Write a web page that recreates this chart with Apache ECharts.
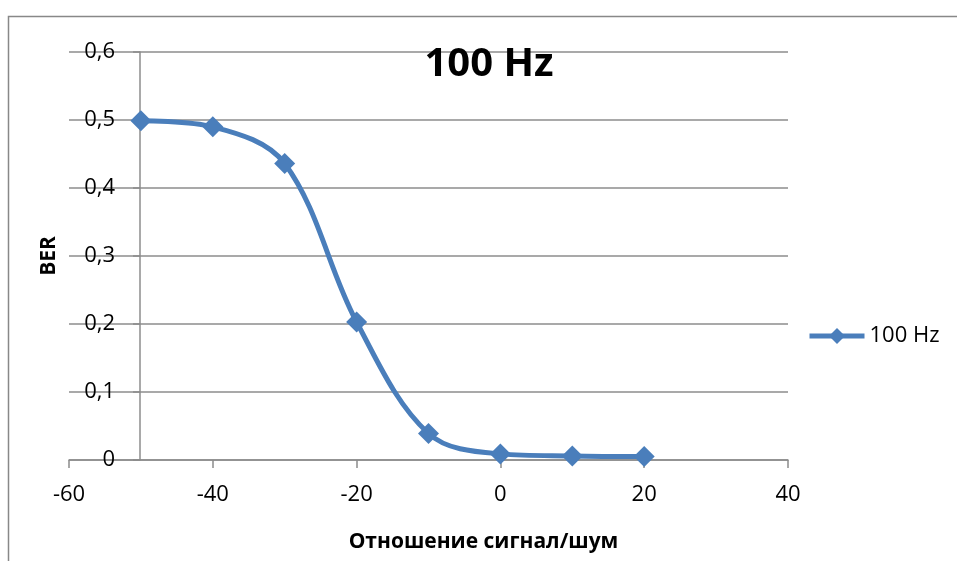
<!DOCTYPE html>
<html>
<head>
<meta charset="utf-8">
<script src="https://cdn.jsdelivr.net/npm/echarts@6/dist/echarts.min.js"></script>
<style>html,body{margin:0;padding:0;background:#fff}#c{width:957px;height:561px}</style>
</head>
<body>
<div id="c"></div>
<script>
const snr = [-50, -40, -30, -20, -10, 0, 10, 20];
const ber = [0.499, 0.490, 0.436, 0.203, 0.039, 0.009, 0.006, 0.005];
const seriesName = '100 Hz';
const chartTitle = '100 Hz';
const xName = 'Отношение сигнал/шум';
const yName = 'BER';

const font = '"Open Sans", "DejaVu Sans", sans-serif';
const blue = '#4a7ebb';
const gray = '#8c8c8c';

const chart = echarts.init(document.getElementById('c'), null, {renderer: 'canvas'});
chart.setOption({
  animation: false,
  backgroundColor: '#fff',
  textStyle: {fontFamily: font},
  graphic: [{
    type: 'rect', shape: {x: 8.5, y: 16.5, width: 1200, height: 1000},
    style: {fill: 'none', stroke: '#888', lineWidth: 1.5}, silent: true, z: -1
  }],
  title: {
    text: chartTitle, left: 489, top: 45, textAlign: 'center', padding: 0,
    textStyle: {fontFamily: font, fontWeight: 'bold', fontSize: 40, color: '#000'}
  },
  legend: {
    data: [seriesName], left: 807, top: 325, padding: 0, itemWidth: 55, itemHeight: 20,
    lineStyle: {width: 5},
    textStyle: {fontFamily: font, fontSize: 22, color: '#000'}
  },
  grid: {left: 69, right: 169, top: 52, bottom: 101, containLabel: false},
  xAxis: {
    type: 'value', min: -60, max: 40, interval: 20,
    name: xName, nameLocation: 'middle', nameGap: 72,
    nameTextStyle: {fontFamily: font, fontWeight: 'bold', fontSize: 21, color: '#000', padding: [0, 0, 0, 110]},
    axisLine: {show: true, onZero: true, lineStyle: {color: gray, width: 1.5}},
    axisTick: {show: true, inside: false, length: 8, lineStyle: {color: gray, width: 1.5}},
    axisLabel: {fontFamily: font, fontSize: 22, color: '#000', margin: 24},
    splitLine: {show: false}
  },
  yAxis: {
    type: 'value', min: 0, max: 0.6, interval: 0.1,
    offset: -71,
    name: yName, nameLocation: 'middle', nameGap: 80, nameRotate: 90,
    nameTextStyle: {fontFamily: font, fontWeight: 'bold', fontSize: 21, color: '#000'},
    axisLine: {show: true, onZero: false, lineStyle: {color: gray, width: 1.5}},
    axisTick: {show: true, inside: false, length: 7, lineStyle: {color: gray, width: 1.5}},
    axisLabel: {
      fontFamily: font, fontSize: 22, color: '#000', margin: 25, align: 'right',
      formatter: v => String(Math.round(v * 10) / 10).replace('.', ',')
    },
    splitLine: {show: true, lineStyle: {color: gray, width: 1.5}}
  },
  series: [{
    name: seriesName, type: 'line', smooth: 0.35,
    data: snr.map((x, i) => [x, ber[i]]),
    symbol: 'diamond', symbolSize: 21,
    lineStyle: {color: blue, width: 5},
    itemStyle: {color: blue},
    z: 5
  }]
});
</script>
</body>
</html>
